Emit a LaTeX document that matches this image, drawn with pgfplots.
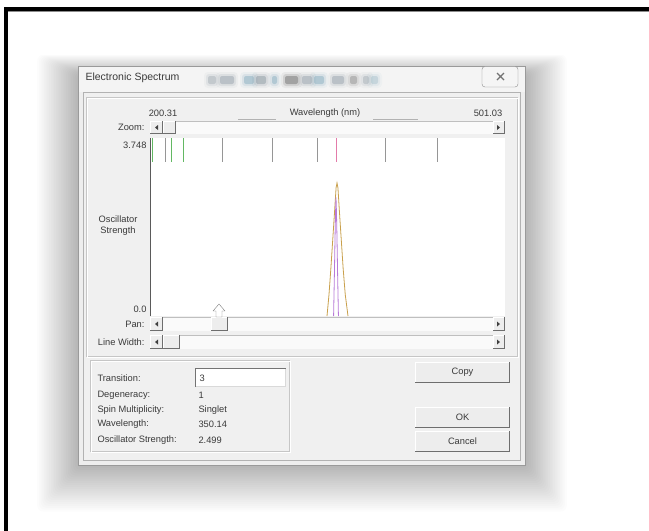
\documentclass[border=0pt]{standalone}
\usepackage{pgfplots}
\pgfplotsset{compat=1.18}
\usepackage{fontspec}
\setmainfont{Liberation Sans}

\definecolor{dlgbg}{HTML}{EEEEEE}
\definecolor{dlgframe}{HTML}{9A9A9A}
\definecolor{client}{HTML}{F0F0F0}
\definecolor{etch}{HTML}{C6C6C6}
\definecolor{txt}{HTML}{3A3A3A}
\definecolor{btnface}{HTML}{EDEDED}
\definecolor{btndark}{HTML}{6E6E6E}
\definecolor{track}{HTML}{FAFAFA}
\definecolor{stick}{HTML}{969696}
\definecolor{stickgreen}{HTML}{63B863}
\definecolor{stickpink}{HTML}{E37BA9}
\definecolor{bandtotal}{HTML}{C9A04C}
\definecolor{bandsel}{HTML}{B87AD8}
\definecolor{axisline}{HTML}{5A5A5A}
\definecolor{glassA}{HTML}{6F7F8C}
\definecolor{glassB}{HTML}{5A8FA8}

\newcommand{\ui}{\fontsize{9.3}{11}\selectfont}

% 3D push-button face: left, top, right, bottom
\newcommand{\btn}[4]{%
  \fill[btnface] (#1,#2) rectangle (#3,#4);
  \draw[btndark] (#1,#4-0.5) -- (#3-0.5,#4-0.5) -- (#3-0.5,#2);
  \draw[white] (#1+0.5,#4-1) -- (#1+0.5,#2+0.5) -- (#3-1,#2+0.5);}
% horizontal scroll bar: top, bottom, thumb left, thumb right
\newcommand{\sbar}[4]{%
  \fill[track] (150,#1) rectangle (505,#2);
  \draw[black!25] (150,#1+0.5) -- (505,#1+0.5);
  \btn{150}{#1}{163}{#2}
  \btn{#3}{#1}{#4}{#2}
  \btn{493}{#1}{505}{#2}
  \fill[black!75] (155,{(#1+#2)/2}) -- (158,{(#1+#2)/2-2.5}) -- (158,{(#1+#2)/2+2.5}) -- cycle;
  \fill[black!75] (500,{(#1+#2)/2}) -- (497,{(#1+#2)/2-2.5}) -- (497,{(#1+#2)/2+2.5}) -- cycle;}

\begin{document}
\begin{tikzpicture}
\useasboundingbox (0,0) rectangle (649pt,-531pt);
\begin{scope}[x=1pt,y=-1pt]
  \fill[white] (0,0) rectangle (649,531);
  % page frame
  \fill[black] (4,7) rectangle (649,11);
  \fill[black] (4,7) rectangle (8,531);
  \draw[black!45] (8,11.5) -- (649,11.5);
  % soft window shadow
  \foreach \i in {1,...,24} {
    \fill[black, opacity=0.011, rounded corners=6]
      (78-1.7*\i, 74-0.8*\i) rectangle (526+1.7*\i, 466+1.9*\i);
  }
  % dialog window
  \fill[dlgbg] (78,66) rectangle (526,466);
  \draw[dlgframe] (78.5,66.5) rectangle (525.5,465.5);
  \fill[white, opacity=0.4] (79,67) rectangle (525,92);
  % blurred glass behind the title bar
  \foreach \a/\b/\c/\o in {208/216/glassA/0.25, 220/234/glassA/0.3, 244/254/glassB/0.3, 256/266/glassA/0.35,
                          272/277/glassB/0.3, 285/298/black!70/0.35, 302/312/glassA/0.3, 314/324/glassB/0.3,
                          332/344/glassA/0.3, 350/357/black!60/0.3, 363/369/glassA/0.25, 371/378/glassB/0.2} {
    \fill[\c, opacity=\o, rounded corners=2] (\a,76) rectangle (\b,84);
    \fill[\c, opacity=0.4*\o, rounded corners=3] (\a-2,74) rectangle (\b+2,86);
    \fill[\c, opacity=0.2*\o, rounded corners=4] (\a-4,72) rectangle (\b+4,88);
  }
  \node[anchor=west, font=\fontsize{10.5}{12}\selectfont, text=txt] at (82,78) {Electronic Spectrum};
  % close button
  \draw[black!45, fill=white!96!black, rounded corners=3] (482,66.5) rectangle (518,87);
  \draw[black!55, line width=1.1pt] (497,73) -- (504,80) (504,73) -- (497,80);
  % client area
  \fill[client] (83,92) rectangle (521,461);
  \draw[black!30] (83.5,92.5) rectangle (520.5,460.5);
  % group frames
  \draw[etch] (86.5,97.5) rectangle (517.5,356.5);
  \draw[white] (87.5,98.5) rectangle (518.5,357.5);
  \draw[etch] (90.5,360.5) rectangle (289.5,451.5);
  \draw[white] (91.5,361.5) rectangle (290.5,452.5);
  % wavelength header
  \node[font=\ui, text=txt] at (163,113) {200.31};
  \node[font=\ui, text=txt] at (488,113) {501.03};
  \draw[black!30] (238,119.5) -- (276,119.5) (373,119.5) -- (418,119.5);
  % scroll bar labels
  \node[anchor=east, font=\ui, text=txt] at (148,127) {Zoom:};
  \node[anchor=east, font=\ui, text=txt] at (148,324) {Pan:};
  \node[anchor=east, font=\ui, text=txt] at (148,342) {Line Width:};
\end{scope}

\begin{axis}[
  at={(150pt,-316pt)}, anchor=south west,
  width=355pt, height=178pt, scale only axis,
  xmin=200.31, xmax=486.28, ymin=0, ymax=3.748,
  axis background/.style={fill=white},
  axis x line*=bottom, axis y line*=left,
  x axis line style={draw=none},
  y axis line style={draw=axisline, -},
  xtick=\empty,
  ytick={0}, yticklabels={0.0},
  extra y ticks={3.748}, extra y tick labels={3.748},
  extra y tick style={yticklabel style={anchor=north east}},
  yticklabel style={anchor=south east},
  major tick length=0pt, tick style={draw=none},
  tick label style={font=\ui, text=txt},
  xlabel={Wavelength (nm)}, ylabel={Oscillator\\Strength},
  every axis x label/.style={at={(axis description cs:0.493,1.140)}, anchor=center, font=\ui, text=txt},
  every axis y label/.style={at={(axis description cs:-0.0901,0.506)}, anchor=center, align=center, font=\ui, text=txt},
  unbounded coords=jump, clip=false,
]
% transition markers along the top edge
\addplot[draw=stick, line width=0.8pt] coordinates {
  (212.39,3.748) (212.39,3.24) (nan,nan)
  (258.31,3.748) (258.31,3.24) (nan,nan)
  (298.59,3.748) (298.59,3.24) (nan,nan)
  (334.84,3.748) (334.84,3.24) (nan,nan)
  (389.61,3.748) (389.61,3.24) (nan,nan)
  (431.50,3.748) (431.50,3.24)
};
\addplot[draw=stickgreen, line width=0.8pt] coordinates {
  (201.92,3.748) (201.92,3.24) (nan,nan)
  (217.23,3.748) (217.23,3.24) (nan,nan)
  (226.89,3.748) (226.89,3.24)
};
\addplot[draw=stickpink, line width=0.8pt] coordinates {
  (350.14,3.748) (350.14,3.24)
};
% total absorption band
\addplot[draw=bandtotal, line width=0.8pt, sharp plot] coordinates {
  (342.9,0) (344.5,0.45) (346.0,1.0) (347.5,1.6) (349.0,2.2) (350.2,2.7)
  (350.95,2.80) (351.7,2.7) (352.9,2.2) (354.4,1.6) (355.9,1.0) (357.6,0.45) (359.8,0)
};
% band of the selected transition
\addplot[draw=bandsel, line width=0.8pt, sharp plot] coordinates {
  (348.2,0) (348.8,0.8) (349.4,1.7) (349.8,2.2) (350.14,2.499)
  (350.5,2.2) (350.9,1.7) (351.5,0.8) (352.1,0)
};
\end{axis}

\begin{scope}[x=1pt,y=-1pt]
  % scroll bars
  \sbar{121}{134}{163}{176}
  \sbar{317}{331}{211}{228}
  \sbar{335}{349}{163}{180}
  % pointer over the pan thumb
  \draw[black!50, fill=white, line join=round] (219,304) -- (225,311) -- (222,311) -- (222,317) -- (216,317) -- (216,311) -- (213,311) -- cycle;
  % transition details
  \node[anchor=west, font=\ui, text=txt] at (94,378) {Transition:};
  \node[anchor=west, font=\ui, text=txt] at (94,395) {Degeneracy:};
  \node[anchor=west, font=\ui, text=txt] at (94,410) {Spin Multiplicity:};
  \node[anchor=west, font=\ui, text=txt] at (94,424) {Wavelength:};
  \node[anchor=west, font=\ui, text=txt] at (94,440) {Oscillator Strength:};
  \fill[white] (195,368) rectangle (286,387);
  \draw[black!55] (195.5,387) -- (195.5,368.5) -- (286,368.5);
  \draw[black!15] (196,386.5) -- (285.5,386.5) -- (285.5,369);
  \node[anchor=west, font=\ui, text=txt] at (196,378) {3};
  \node[anchor=west, font=\ui, text=txt] at (195,395) {1};
  \node[anchor=west, font=\ui, text=txt] at (195,410) {Singlet};
  \node[anchor=west, font=\ui, text=txt] at (195,424) {350.14};
  \node[anchor=west, font=\ui, text=txt] at (195,440) {2.499};
  % push buttons
  \btn{415}{362}{510}{383}
  \node[font=\ui, text=txt] at (462.5,372.5) {Copy};
  \btn{415}{407}{510}{428}
  \node[font=\ui, text=txt] at (462.5,417.5) {OK};
  \btn{415}{431}{510}{452}
  \node[font=\ui, text=txt] at (462.5,441.5) {Cancel};
\end{scope}
\end{tikzpicture}
\end{document}
